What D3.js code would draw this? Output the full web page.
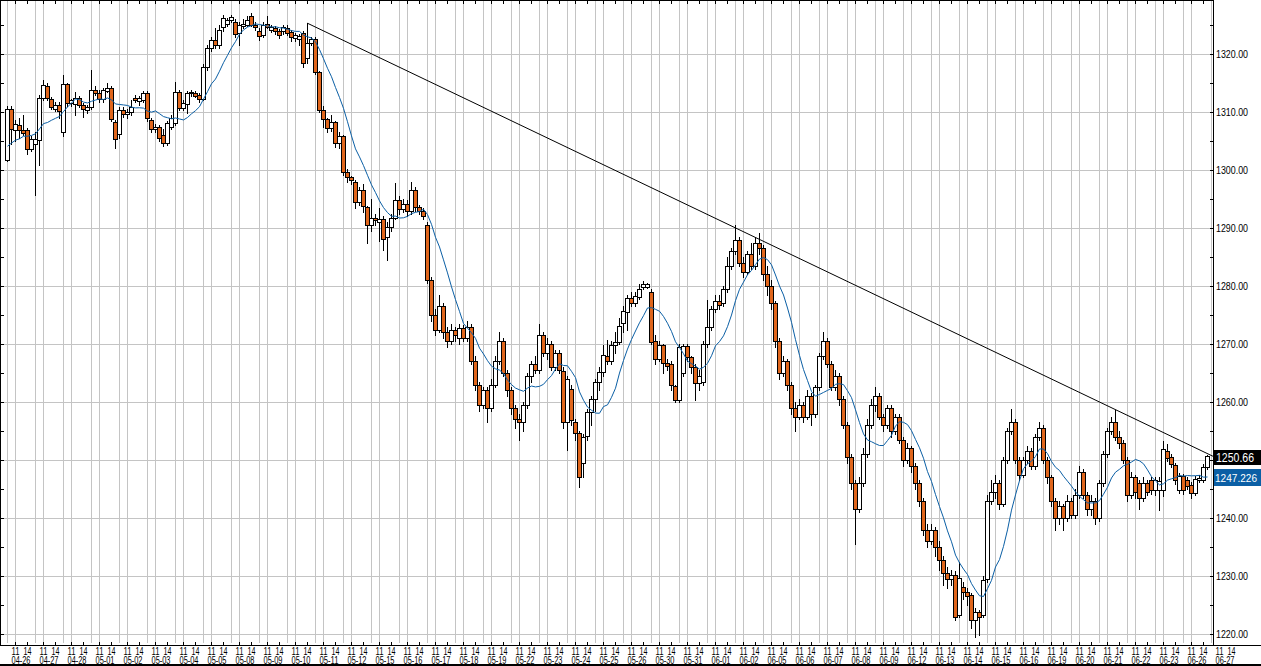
<!DOCTYPE html>
<html><head><meta charset="utf-8">
<script src="https://cdn.jsdelivr.net/npm/d3@7"></script>
<style>html,body{margin:0;padding:0;background:#fff;}svg{display:block;}</style>
</head><body>
<svg id="chart" width="1261" height="666"></svg>
<script>
// ---------------- data ----------------
const dates = ["04-26","04-27","04-28","05-01","05-02","05-03","05-04","05-05","05-08","05-09","05-10",
  "05-11","05-12","05-15","05-16","05-17","05-18","05-19","05-22","05-23","05-24","05-25","05-26",
  "05-30","05-31","06-01","06-02","06-05","06-06","06-07","06-08","06-09","06-12","06-13","06-14",
  "06-15","06-16","06-19","06-20","06-21","06-22","06-23","06-26","06-27"];
const barsPerDay = 7;
const hourTicks = [{label:"11", bar:2},{label:"14", bar:5}];
const priceTicks = [1220,1230,1240,1250,1260,1270,1280,1290,1300,1310,1320];
const maPeriod = 10;
const priorCloses = [1301.5,1303,1304.5,1302,1303.5,1304,1302.5,1304,1305.5];
// [open, high, low, close]
const candles = [
[1301.7,1311.0,1301.5,1310.5],[1310.5,1311.0,1304.5,1307.0],[1306.9,1308.6,1305.0,1307.9],[1307.8,1309.0,1305.5,1306.9],
[1306.9,1309.5,1306.0,1306.4],[1306.9,1307.2,1302.8,1303.6],[1303.6,1305.8,1303.2,1305.3],[1304.5,1306.5,1295.7,1305.3],
[1305.2,1313.0,1300.9,1312.4],[1312.4,1315.5,1312.0,1314.7],[1314.4,1315.0,1312.0,1312.4],[1312.2,1312.6,1310.5,1310.9],
[1310.6,1311.8,1310.2,1311.2],[1311.2,1311.8,1309.0,1310.2],[1306.6,1316.4,1305.9,1314.8],[1314.8,1315.0,1311.0,1311.5],
[1311.5,1312.3,1311.0,1312.0],[1311.4,1313.4,1309.5,1312.4],[1312.4,1312.8,1310.8,1311.2],[1311.2,1311.5,1309.2,1310.5],
[1310.3,1311.2,1309.8,1310.9],[1310.9,1317.2,1310.5,1313.8],[1313.8,1314.5,1313.0,1313.3],[1313.3,1313.8,1311.8,1312.2],
[1312.2,1314.2,1311.8,1313.8],[1313.7,1315.0,1313.5,1314.1],[1314.1,1314.5,1308.5,1308.8],[1308.3,1308.6,1303.8,1305.3],
[1306.2,1310.8,1305.5,1310.3],[1310.3,1310.8,1309.2,1309.7],[1309.7,1310.5,1309.0,1310.0],[1310.0,1312.1,1309.5,1310.9],
[1312.4,1313.0,1311.8,1312.0],[1311.9,1312.8,1311.2,1312.4],[1312.1,1313.6,1311.8,1313.2],[1313.3,1313.6,1308.5,1309.0],
[1308.6,1309.0,1306.5,1307.0],[1307.0,1308.0,1306.5,1307.4],[1307.4,1307.8,1305.0,1305.5],[1306.0,1307.0,1304.2,1304.7],
[1304.7,1308.5,1304.3,1308.1],[1307.5,1309.5,1307.0,1309.0],[1308.1,1315.2,1307.8,1313.4],[1313.4,1313.8,1310.3,1310.7],
[1310.7,1312.0,1310.3,1311.5],[1311.3,1313.6,1309.8,1313.2],[1313.2,1313.8,1312.8,1313.4],[1313.3,1313.6,1312.5,1312.8],
[1313.0,1313.3,1311.8,1312.3],[1312.3,1318.2,1312.0,1317.8],[1317.8,1321.5,1317.2,1321.0],[1321.0,1323.0,1320.5,1322.5],
[1322.5,1324.5,1321.0,1321.6],[1321.6,1325.0,1321.0,1324.2],[1324.7,1326.7,1324.0,1326.2],[1325.2,1326.2,1324.8,1325.9],
[1325.9,1326.8,1325.5,1326.4],[1325.5,1326.0,1323.0,1323.5],[1323.6,1325.5,1321.5,1325.0],[1324.9,1326.0,1324.5,1325.2],
[1325.0,1326.5,1324.8,1325.9],[1326.5,1327.0,1324.8,1325.0],[1325.0,1325.5,1324.2,1324.6],[1324.0,1324.5,1322.5,1323.1],
[1323.2,1325.5,1323.0,1325.0],[1325.2,1326.5,1324.5,1324.7],[1324.2,1325.0,1323.8,1324.6],[1324.4,1324.8,1323.5,1323.9],
[1324.0,1324.3,1322.8,1323.3],[1323.9,1325.0,1323.5,1324.6],[1324.5,1325.0,1323.3,1323.7],[1323.8,1324.2,1322.3,1322.9],
[1322.7,1323.6,1322.3,1323.2],[1322.6,1323.5,1321.5,1323.1],[1323.6,1324.0,1317.8,1318.5],[1319.3,1325.3,1318.5,1321.9],
[1321.9,1323.0,1321.5,1322.6],[1322.6,1323.0,1316.5,1316.9],[1316.9,1317.0,1310.0,1310.3],[1310.3,1311.0,1307.5,1308.8],
[1308.8,1309.0,1306.5,1307.2],[1307.2,1309.5,1306.8,1308.3],[1308.3,1308.5,1304.0,1304.7],[1304.7,1306.5,1303.8,1305.9],
[1305.9,1306.0,1299.2,1299.7],[1299.7,1300.2,1298.0,1298.8],[1298.8,1299.0,1297.5,1298.2],[1298.0,1298.3,1293.5,1294.5],
[1294.5,1297.0,1294.0,1296.5],[1296.5,1297.5,1292.8,1293.8],[1293.6,1293.8,1287.5,1290.5],[1290.5,1295.0,1289.5,1291.8],
[1291.8,1292.5,1290.5,1291.4],[1291.0,1293.5,1287.8,1291.6],[1291.5,1292.0,1286.2,1288.1],[1288.5,1291.0,1284.5,1290.2],
[1290.2,1292.5,1289.5,1291.8],[1291.8,1297.8,1291.5,1294.8],[1294.8,1295.5,1292.5,1293.2],[1293.2,1295.0,1292.8,1294.2],
[1294.2,1294.8,1292.0,1293.0],[1293.0,1298.0,1292.5,1296.5],[1296.5,1297.0,1293.0,1293.6],[1293.6,1294.0,1292.5,1293.0],
[1293.0,1293.5,1291.5,1292.0],[1290.5,1291.0,1280.5,1281.0],[1281.0,1281.5,1274.0,1275.0],[1275.0,1276.0,1271.5,1272.5],
[1272.5,1278.5,1272.0,1276.5],[1276.5,1277.0,1271.0,1272.0],[1272.0,1273.0,1269.5,1270.5],[1270.5,1273.5,1270.0,1272.5],
[1272.5,1273.0,1270.5,1271.5],[1271.0,1273.5,1270.0,1272.8],[1272.8,1273.2,1270.5,1271.0],[1271.0,1274.0,1270.5,1273.0],
[1273.0,1273.5,1266.5,1267.0],[1267.0,1268.0,1262.0,1263.0],[1263.0,1263.5,1258.5,1259.5],[1259.5,1262.5,1259.0,1262.0],
[1262.0,1262.5,1256.5,1259.0],[1259.0,1264.0,1258.5,1263.0],[1263.0,1268.0,1262.5,1267.0],[1267.0,1272.0,1266.5,1270.5],
[1270.5,1271.0,1264.5,1265.0],[1265.0,1265.5,1261.0,1262.0],[1262.0,1262.5,1258.0,1259.0],[1259.0,1259.5,1255.5,1257.0],
[1257.0,1258.0,1253.5,1256.5],[1256.5,1260.0,1255.0,1259.5],[1259.5,1265.0,1259.0,1264.5],[1264.5,1267.0,1263.5,1266.5],
[1266.5,1268.0,1265.0,1265.5],[1265.5,1273.5,1265.0,1271.5],[1271.5,1272.0,1268.0,1268.5],[1268.5,1271.0,1267.5,1270.0],
[1270.0,1270.5,1265.5,1266.0],[1266.0,1269.0,1265.5,1268.4],[1268.4,1269.0,1265.0,1265.5],[1265.4,1266.0,1255.5,1256.6],
[1256.6,1264.5,1251.7,1264.0],[1262.2,1263.0,1256.0,1256.9],[1256.6,1257.0,1253.5,1254.6],[1254.7,1255.0,1245.4,1247.0],
[1249.4,1254.5,1247.0,1254.0],[1254.2,1258.8,1253.5,1258.3],[1258.3,1261.0,1256.0,1260.5],[1260.5,1264.0,1258.5,1263.5],
[1263.5,1266.0,1262.0,1265.2],[1265.2,1269.8,1264.5,1268.1],[1267.9,1270.7,1266.5,1267.0],[1267.0,1270.5,1266.5,1269.8],
[1269.8,1272.0,1268.5,1270.4],[1270.4,1274.5,1270.0,1273.1],[1273.7,1276.5,1272.0,1275.7],[1275.6,1278.5,1272.5,1277.9],
[1277.9,1279.0,1276.5,1277.0],[1277.0,1279.0,1276.5,1278.2],[1278.1,1280.4,1277.8,1279.4],[1279.8,1280.8,1279.5,1280.3],
[1279.9,1280.6,1279.7,1280.3],[1279.0,1279.5,1270.0,1270.4],[1270.6,1271.5,1266.5,1267.5],[1267.5,1270.5,1267.0,1269.8],
[1269.8,1270.0,1265.0,1266.7],[1266.7,1267.5,1265.5,1266.2],[1266.6,1267.0,1262.0,1262.9],[1262.8,1263.0,1260.0,1260.3],
[1260.3,1270.0,1260.0,1269.5],[1265.0,1270.0,1264.5,1269.6],[1269.6,1270.0,1267.0,1267.7],[1267.7,1268.0,1265.0,1266.0],
[1266.0,1266.5,1260.3,1263.2],[1263.2,1265.5,1262.0,1264.5],[1263.5,1270.5,1263.0,1270.0],[1270.0,1277.6,1269.5,1272.9],
[1273.0,1276.5,1272.5,1276.0],[1276.0,1278.5,1275.5,1277.5],[1277.5,1278.5,1276.0,1276.8],[1277.0,1280.0,1276.5,1279.5],
[1279.5,1285.0,1279.0,1283.5],[1283.5,1286.5,1283.0,1286.0],[1286.0,1290.5,1285.5,1288.0],[1288.0,1288.5,1283.5,1284.0],
[1284.0,1285.0,1281.5,1282.5],[1282.5,1286.0,1282.0,1285.5],[1285.5,1287.5,1283.0,1283.5],[1283.5,1288.5,1283.0,1287.5],
[1287.5,1289.2,1285.5,1286.5],[1286.5,1287.0,1281.0,1282.0],[1282.0,1283.5,1278.5,1280.0],[1280.0,1281.0,1276.0,1277.0],
[1277.0,1277.5,1269.5,1270.5],[1270.5,1271.0,1264.0,1265.0],[1265.0,1268.0,1264.5,1267.0],[1267.0,1267.5,1262.0,1263.0],
[1263.0,1263.5,1258.0,1259.0],[1259.0,1260.0,1255.0,1257.5],[1257.5,1260.5,1257.0,1259.5],[1259.5,1260.0,1256.5,1257.5],
[1257.5,1262.0,1257.0,1261.0],[1261.0,1261.5,1256.0,1258.0],[1258.0,1263.0,1257.5,1262.5],[1262.5,1268.5,1262.0,1268.0],
[1268.0,1272.0,1267.5,1270.5],[1270.5,1271.0,1266.0,1266.5],[1266.5,1267.0,1262.0,1262.5],[1262.5,1265.5,1262.0,1264.5],
[1264.5,1265.0,1259.5,1260.5],[1260.5,1261.0,1255.5,1256.0],[1256.0,1256.5,1249.5,1250.5],[1250.5,1251.0,1245.0,1246.0],
[1246.0,1246.5,1235.5,1241.5],[1241.5,1247.0,1241.0,1246.0],[1246.0,1252.0,1245.5,1251.0],[1251.0,1257.0,1250.5,1256.0],
[1256.0,1260.5,1255.5,1259.5],[1259.5,1262.5,1258.5,1261.0],[1261.0,1261.5,1257.0,1257.5],[1257.5,1258.0,1255.0,1256.0],
[1256.0,1259.5,1255.5,1259.0],[1259.0,1259.5,1254.0,1255.0],[1255.0,1258.0,1254.5,1257.5],[1257.5,1258.0,1253.0,1253.5],
[1253.5,1254.0,1249.0,1250.0],[1250.0,1253.0,1249.5,1252.0],[1252.0,1252.5,1248.0,1249.0],[1249.0,1249.5,1245.0,1246.0],
[1246.0,1246.5,1242.0,1243.0],[1243.0,1243.5,1237.0,1238.0],[1238.0,1239.0,1235.0,1236.0],[1236.0,1239.0,1235.5,1238.0],
[1238.0,1238.5,1233.5,1235.0],[1235.0,1236.0,1231.0,1232.8],[1232.8,1233.5,1228.5,1230.5],[1230.5,1231.5,1228.0,1229.5],
[1229.5,1231.0,1228.5,1230.2],[1230.2,1230.8,1222.5,1223.0],[1223.3,1232.5,1223.0,1229.7],[1228.1,1229.0,1226.0,1227.2],
[1227.2,1228.0,1225.0,1226.6],[1226.7,1227.0,1221.0,1222.4],[1222.4,1224.5,1219.5,1223.8],[1223.8,1224.2,1219.8,1223.0],
[1223.3,1230.0,1223.0,1229.3],[1229.5,1244.0,1229.0,1243.0],[1243.0,1246.5,1242.5,1244.5],[1244.5,1247.5,1243.5,1246.0],
[1246.0,1246.5,1241.5,1242.5],[1242.5,1250.5,1242.0,1250.0],[1250.0,1255.5,1249.5,1255.0],[1255.0,1258.8,1254.5,1256.5],
[1256.5,1257.0,1249.5,1250.0],[1250.0,1250.5,1246.5,1247.5],[1247.5,1250.5,1247.0,1250.0],[1250.0,1252.5,1249.5,1251.5],
[1251.5,1252.0,1248.5,1249.0],[1249.0,1254.5,1248.5,1254.0],[1254.0,1256.5,1253.5,1255.5],[1255.5,1256.0,1249.5,1250.0],
[1250.0,1250.5,1246.0,1247.0],[1247.0,1247.5,1242.0,1243.0],[1243.0,1243.5,1238.0,1240.0],[1240.0,1243.0,1239.0,1242.0],
[1242.0,1242.5,1238.0,1240.0],[1240.0,1244.0,1239.5,1243.0],[1243.0,1243.5,1240.0,1240.5],[1240.5,1245.0,1240.0,1244.0],
[1244.0,1249.0,1243.5,1248.0],[1248.0,1248.5,1243.5,1244.0],[1244.0,1244.5,1240.5,1241.5],[1241.5,1244.0,1240.5,1243.0],
[1243.0,1243.5,1239.0,1240.0],[1240.0,1246.5,1239.5,1246.0],[1246.0,1251.5,1245.5,1251.0],[1251.0,1255.5,1250.5,1255.0],
[1255.0,1257.5,1254.5,1256.5],[1256.5,1258.6,1253.5,1254.0],[1254.0,1255.0,1252.0,1253.0],[1253.0,1253.5,1249.5,1250.0],
[1250.0,1250.5,1243.0,1244.0],[1244.0,1248.0,1243.5,1247.0],[1247.0,1247.5,1243.5,1244.5],[1246.0,1246.5,1241.5,1243.5],
[1243.5,1247.0,1243.0,1246.0],[1246.0,1246.5,1244.0,1244.5],[1246.6,1247.0,1244.2,1244.8],[1244.8,1247.0,1244.0,1246.5],
[1244.8,1247.0,1241.4,1246.3],[1244.8,1253.2,1243.8,1251.9],[1251.5,1252.8,1249.8,1250.3],[1250.5,1251.0,1248.8,1249.3],
[1249.1,1249.5,1245.8,1246.6],[1244.8,1247.8,1244.3,1247.2],[1247.2,1247.6,1244.2,1244.8],[1246.6,1247.0,1245.0,1245.5],
[1245.7,1246.2,1243.5,1244.3],[1244.3,1247.2,1244.0,1246.7],[1246.6,1247.5,1246.2,1246.9],[1246.6,1249.3,1246.2,1248.8],
[1248.8,1250.9,1248.5,1250.66]
];
const trendLine = [[75, 1325.3], [301.5, 1250.6]];   // [bar index, price]
const lastPrice = "1250.66";
const maLastLabel = "1247.226";

// ---------------- layout ----------------
const W = 1261, H = 666;
const plotL = 0, plotR = 1213, plotT = 0, plotB = 645;
const svg = d3.select("#chart");
const n = candles.length;
const x = d3.scaleLinear().domain([0, n - 1]).range([7, 7 + 4 * (n - 1)]);
const y = d3.scaleLinear().domain([1220, 1320]).range([634, 54]);
const FONT = "'Liberation Sans Narrow','Liberation Sans',Arial,sans-serif";
const ORANGE = "#E0661C", BLUE = "#0B5FA5", GRID = "#c4c4c4";

svg.append("rect").attr("width", W).attr("height", H).attr("fill", "#fff");

const defs = svg.append("defs");
defs.append("clipPath").attr("id", "plotclip").append("rect")
  .attr("x", plotL).attr("y", plotT).attr("width", plotR - plotL).attr("height", plotB - plotT);

const grid = svg.append("g").attr("shape-rendering", "crispEdges");
grid.selectAll("line.h").data(priceTicks).join("line")
  .attr("x1", plotL).attr("x2", plotR)
  .attr("y1", d => Math.round(y(d)) + 0.5).attr("y2", d => Math.round(y(d)) + 0.5)
  .attr("stroke", GRID).attr("stroke-width", 1);
const vBars = [];
dates.forEach((d, k) => { vBars.push(k * barsPerDay); vBars.push(k * barsPerDay + hourTicks[0].bar); });
grid.selectAll("line.v").data(vBars.filter(b => x(b) < plotR - 1)).join("line")
  .attr("x1", b => Math.round(x(b)) + 0.5).attr("x2", b => Math.round(x(b)) + 0.5)
  .attr("y1", plotT).attr("y2", plotB - 2)
  .attr("stroke", GRID).attr("stroke-width", 1);

// ---------------- moving average ----------------
const allCloses = priorCloses.concat(candles.map(c => c[3]));
const ma = candles.map((c, i) => d3.mean(allCloses.slice(i, i + maPeriod)));

const plot = svg.append("g").attr("clip-path", "url(#plotclip)");

const cg = plot.append("g");
candles.forEach((c, i) => {
  const [o, h, l, cl] = c;
  const cx = Math.round(x(i));
  cg.append("line")
    .attr("x1", cx + 0.5).attr("x2", cx + 0.5)
    .attr("y1", Math.round(y(h))).attr("y2", Math.round(y(l)) + 1)
    .attr("stroke", "#000").attr("stroke-width", 1).attr("shape-rendering", "crispEdges");
  const top = Math.round(y(Math.max(o, cl))), bot = Math.round(y(Math.min(o, cl)));
  cg.append("rect")
    .attr("x", cx - 1.5).attr("y", top + 0.5)
    .attr("width", 4).attr("height", Math.max(1, bot - top))
    .attr("fill", cl >= o ? "#fff" : ORANGE)
    .attr("stroke", "#000").attr("stroke-width", 1).attr("shape-rendering", "crispEdges");
});

plot.append("path")
  .datum(ma)
  .attr("d", d3.line().x((d, i) => x(i) + 0.5).y(d => y(d)))
  .attr("fill", "none").attr("stroke", BLUE).attr("stroke-width", 1);

plot.append("line")
  .attr("x1", x(trendLine[0][0]) + 0.5).attr("y1", y(trendLine[0][1]))
  .attr("x2", x(trendLine[1][0]) + 0.5).attr("y2", y(trendLine[1][1]))
  .attr("stroke", "#000").attr("stroke-width", 1);

// ---------------- axes / frame ----------------
const fr = svg.append("g").attr("shape-rendering", "crispEdges").attr("stroke", "#000");
fr.append("line").attr("x1", 0.5).attr("x2", 0.5).attr("y1", 0).attr("y2", plotB);
fr.append("line").attr("x1", plotR + 0.5).attr("x2", plotR + 0.5).attr("y1", 0).attr("y2", plotB);
fr.append("line").attr("x1", 0).attr("x2", plotR).attr("y1", 0.5).attr("y2", 0.5);
fr.append("line").attr("x1", 0).attr("x2", W).attr("y1", plotB + 0.5).attr("y2", plotB + 0.5);
fr.append("line").attr("x1", 0).attr("x2", W).attr("y1", H - 1.5).attr("y2", H - 1.5).attr("stroke-width", 2);

const minor = d3.range(1220, 1326, 5);
fr.selectAll("line.rt").data(minor).join("line")
  .attr("x1", plotR - 3).attr("x2", plotR)
  .attr("y1", d => Math.round(y(d)) + 0.5).attr("y2", d => Math.round(y(d)) + 0.5);
fr.selectAll("line.lt").data(minor).join("line")
  .attr("x1", 1).attr("x2", 4)
  .attr("y1", d => Math.round(y(d)) + 0.5).attr("y2", d => Math.round(y(d)) + 0.5);

// last-value boxes (computed first so hidden tick labels can be skipped)
const lp = +lastPrice;
const lpY = Math.round(y(lp));
const lmY = Math.round(y(+maLastLabel));
const boxes = [[lpY - 6, lpY + 9], [lmY - 7, lmY + 10]];
const visibleTicks = priceTicks.filter(t => {
  const ty = Math.round(y(t));
  return !boxes.some(b => ty + 4 > b[0] && ty - 4 < b[1]);
});

svg.append("g").selectAll("text").data(visibleTicks).join("text")
  .attr("x", plotR + 3).attr("y", d => Math.round(y(d)) + 4)
  .attr("font-family", FONT).attr("font-size", 11.5).attr("fill", "#000")
  .attr("textLength", 32).attr("lengthAdjust", "spacingAndGlyphs")
  .text(d => d3.format(".2f")(d));

const hourItems = [];
dates.forEach((d, k) => hourTicks.forEach(t => {
  const b = k * barsPerDay + t.bar;
  if (x(b) < W - 4) hourItems.push({b, label: t.label});
}));
fr.selectAll("line.bt").data(hourItems.filter(h => x(h.b) < plotR)).join("line")
  .attr("x1", h => Math.round(x(h.b)) + 0.5).attr("x2", h => Math.round(x(h.b)) + 0.5)
  .attr("y1", plotB - 3).attr("y2", plotB);
fr.selectAll("line.tt").data(hourItems.filter(h => x(h.b) < plotR)).join("line")
  .attr("x1", h => Math.round(x(h.b)) + 0.5).attr("x2", h => Math.round(x(h.b)) + 0.5)
  .attr("y1", 1).attr("y2", 4);

const tg = svg.append("g").attr("font-family", FONT).attr("fill", "#000");
tg.selectAll("text.hr").data(hourItems).join("text")
  .attr("x", h => x(h.b) + 0.5).attr("y", 655).attr("text-anchor", "middle")
  .attr("font-size", 10).attr("textLength", 8).attr("lengthAdjust", "spacingAndGlyphs")
  .text(h => h.label);
tg.selectAll("text.dt").data(dates).join("text")
  .attr("x", (d, k) => x(k * barsPerDay + hourTicks[0].bar) - 3.5).attr("y", 664)
  .attr("font-size", 10).attr("textLength", 19).attr("lengthAdjust", "spacingAndGlyphs")
  .text(d => d);

const lab = svg.append("g");
lab.append("rect").attr("x", plotR + 1).attr("y", lpY - 6).attr("width", W - plotR - 1).attr("height", 15).attr("fill", "#000");
lab.append("text").attr("x", plotR + 3).attr("y", lpY + 6).attr("fill", "#fff")
  .attr("font-family", FONT).attr("font-size", 12).attr("textLength", 38).attr("lengthAdjust", "spacingAndGlyphs").text(lastPrice);
lab.append("rect").attr("x", plotR + 1).attr("y", lmY - 7).attr("width", W - plotR - 1).attr("height", 17).attr("fill", BLUE);
lab.append("text").attr("x", plotR + 2).attr("y", lmY + 6).attr("fill", "#fff")
  .attr("font-family", FONT).attr("font-size", 10.5).attr("textLength", 42).attr("lengthAdjust", "spacingAndGlyphs").text(maLastLabel);
</script>
</body></html>
